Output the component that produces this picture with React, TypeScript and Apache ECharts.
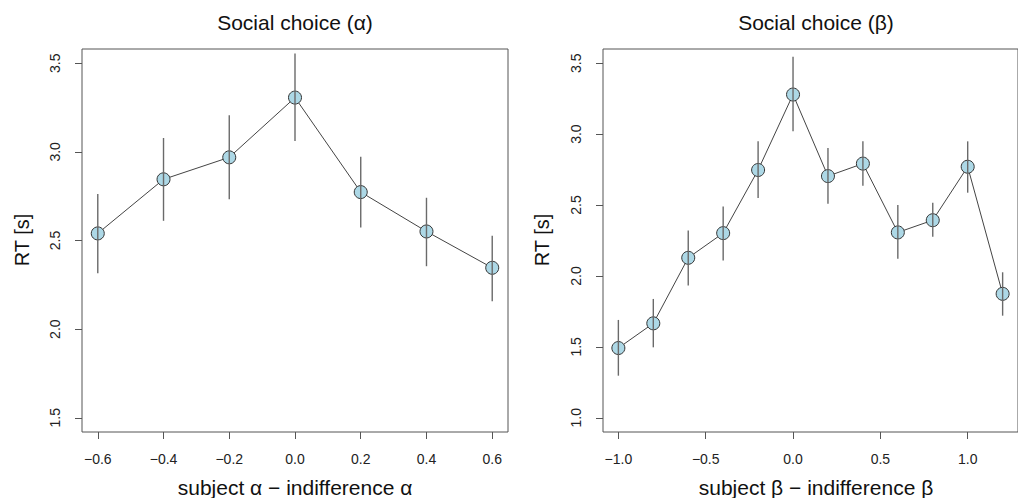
import React, { useEffect, useRef } from "react";
import * as echarts from "echarts";

const alphaX = [-0.6, -0.4, -0.2, 0.0, 0.2, 0.4, 0.6];
const alphaMean = [2.54, 2.845, 2.969, 3.306, 2.773, 2.551, 2.346];
const alphaLo = [2.315, 2.611, 2.732, 3.061, 2.573, 2.355, 2.157];
const alphaHi = [2.762, 3.078, 3.206, 3.555, 2.973, 2.741, 2.527];

const betaX = [-1.0, -0.8, -0.6, -0.4, -0.2, 0.0, 0.2, 0.4, 0.6, 0.8, 1.0, 1.2];
const betaMean = [1.492, 1.666, 2.128, 2.302, 2.747, 3.279, 2.704, 2.792, 2.307, 2.393, 2.77, 1.874];
const betaLo = [1.297, 1.497, 1.932, 2.109, 2.549, 3.02, 2.509, 2.636, 2.121, 2.276, 2.587, 1.72];
const betaHi = [1.69, 1.838, 2.321, 2.49, 2.949, 3.545, 2.902, 2.949, 2.5, 2.516, 2.949, 2.026];

const alphaXTicks = [-0.6, -0.4, -0.2, 0.0, 0.2, 0.4, 0.6];
const alphaYTicks = [1.5, 2.0, 2.5, 3.0, 3.5];
const betaXTicks = [-1.0, -0.5, 0.0, 0.5, 1.0];
const betaYTicks = [1.0, 1.5, 2.0, 2.5, 3.0, 3.5];

const titles = ["Social choice (\u03b1)", "Social choice (\u03b2)"];
const xNames = ["subject \u03b1 \u2212 indifference \u03b1", "subject \u03b2 \u2212 indifference \u03b2"];
const yName = "RT [s]";

const FONT = "'Liberation Sans', Arial, Helvetica, sans-serif";
const AXIS = "#555";

function fmt(v: number) {
  const s = Number(v).toFixed(1);
  return s.replace("-", "\u2212");
}

export default function App() {
  const ref = useRef<HTMLDivElement>(null);
  useEffect(() => {
    if (!ref.current) return;
    const chart = echarts.init(ref.current, undefined, { renderer: "svg" });

    const xAxisBase = (idx: number, min: number, max: number, ticks: number[]) => ({
      type: "value",
      gridIndex: idx,
      position: "bottom",
      min,
      max,
      axisLine: { show: false, onZero: false },
      splitLine: { show: false },
      axisTick: {
        show: true,
        inside: false,
        length: 7,
        customValues: ticks,
        lineStyle: { color: AXIS, width: 1 },
      },
      axisLabel: {
        show: true,
        customValues: ticks,
        formatter: fmt,
        margin: 20,
        color: "#222",
        fontSize: 14,
        fontFamily: FONT,
      },
    });
    const yAxisBase = (idx: number, min: number, max: number, ticks: number[]) => ({
      type: "value",
      gridIndex: idx,
      position: "left",
      min,
      max,
      axisLine: { show: false, onZero: false },
      splitLine: { show: false },
      axisTick: {
        show: true,
        inside: false,
        length: 7,
        customValues: ticks,
        lineStyle: { color: AXIS, width: 1 },
      },
      axisLabel: {
        show: true,
        customValues: ticks,
        formatter: fmt,
        rotate: 90,
        margin: 20,
        color: "#222",
        fontSize: 14,
        fontFamily: FONT,
      },
    });

    const errSeries = (idx: number, xs: number[], lo: number[], hi: number[]) => ({
      type: "custom",
      xAxisIndex: idx,
      yAxisIndex: idx,
      z: 5,
      data: xs.map((x, i) => [x, lo[i], hi[i]]),
      encode: { x: 0, y: [1, 2] },
      renderItem: (params: any, api: any) => {
        const x = api.value(0);
        const p1 = api.coord([x, api.value(1)]);
        const p2 = api.coord([x, api.value(2)]);
        return {
          type: "line",
          shape: { x1: p1[0], y1: p1[1], x2: p2[0], y2: p2[1] },
          style: { stroke: "#6a6a6a", lineWidth: 1.4 },
        };
      },
    });

    const lineSeries = (idx: number, xs: number[], ys: number[]) => ({
      type: "line",
      xAxisIndex: idx,
      yAxisIndex: idx,
      z: 3,
      data: xs.map((x, i) => [x, ys[i]]),
      symbol: "circle",
      symbolSize: 13,
      showSymbol: true,
      itemStyle: { color: "#add8e6", borderColor: "#333", borderWidth: 1 },
      lineStyle: { color: "#444", width: 1 },
    });

    const centers = [295, 816];
    const graphic: any[] = [];
    centers.forEach((cx, i) => {
      graphic.push({
        type: "text",
        x: cx,
        y: 22,
        style: {
          text: titles[i],
          fontSize: 21,
          fontFamily: FONT,
          fill: "#111",
          textAlign: "center",
          textVerticalAlign: "middle",
        },
      });
      graphic.push({
        type: "text",
        x: cx,
        y: 487,
        style: {
          text: xNames[i],
          fontSize: 21,
          fontFamily: FONT,
          fill: "#111",
          textAlign: "center",
          textVerticalAlign: "middle",
        },
      });
    });
    [22, 542].forEach((x) => {
      graphic.push({
        type: "text",
        x,
        y: 240,
        rotation: Math.PI / 2,
        style: {
          text: yName,
          fontSize: 20,
          fontFamily: FONT,
          fill: "#111",
          textAlign: "center",
          textVerticalAlign: "middle",
        },
      });
    });

    chart.setOption({
      animation: false,
      backgroundColor: "#fff",
      grid: [
        { left: 82, top: 49, width: 426, height: 383, show: true, borderColor: AXIS, borderWidth: 1, backgroundColor: "transparent" },
        { left: 603, top: 49, width: 426, height: 383, show: true, borderColor: AXIS, borderWidth: 1, backgroundColor: "transparent" },
      ],
      xAxis: [xAxisBase(0, -0.648, 0.648, alphaXTicks), xAxisBase(1, -1.088, 1.288, betaXTicks)],
      yAxis: [yAxisBase(0, 1.42, 3.58, alphaYTicks), yAxisBase(1, 0.9, 3.6, betaYTicks)],
      series: [
        lineSeries(0, alphaX, alphaMean),
        errSeries(0, alphaX, alphaLo, alphaHi),
        lineSeries(1, betaX, betaMean),
        errSeries(1, betaX, betaLo, betaHi),
      ],
      graphic,
    });
    return () => chart.dispose();
  }, []);
  return <div ref={ref} style={{ position: "fixed", left: 0, top: 0, width: 1018, height: 498 }} />;
}
